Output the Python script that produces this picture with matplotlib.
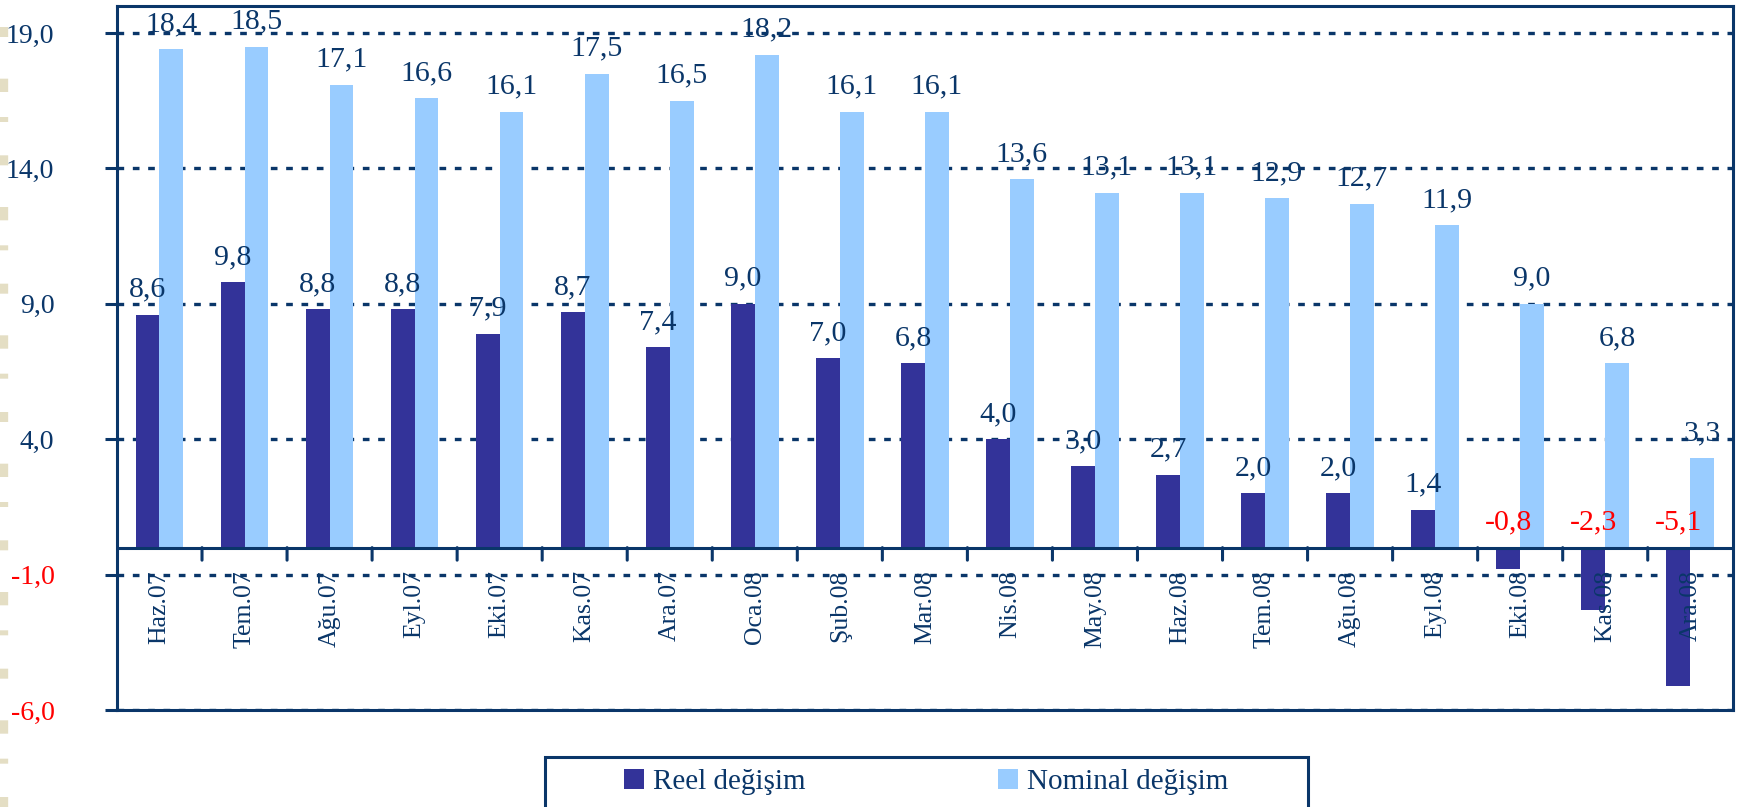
import numpy as np
import matplotlib
matplotlib.use("Agg")
import matplotlib.pyplot as plt
from matplotlib.patches import Rectangle
from matplotlib.lines import Line2D

months = ['Haz.07', 'Tem.07', 'Ağu.07', 'Eyl.07', 'Eki.07', 'Kas.07', 'Ara.07',
          'Oca.08', 'Şub.08', 'Mar.08', 'Nis.08', 'May.08', 'Haz.08', 'Tem.08',
          'Ağu.08', 'Eyl.08', 'Eki.08', 'Kas.08', 'Ara.08']
reel = [8.6, 9.8, 8.8, 8.8, 7.9, 8.7, 7.4, 9.0, 7.0, 6.8, 4.0, 3.0, 2.7, 2.0,
        2.0, 1.4, -0.8, -2.3, -5.1]
nominal = [18.4, 18.5, 17.1, 16.6, 16.1, 17.5, 16.5, 18.2, 16.1, 16.1, 13.6,
           13.1, 13.1, 12.9, 12.7, 11.9, 9.0, 6.8, 3.3]
yticks = [-6.0, -1.0, 4.0, 9.0, 14.0, 19.0]

NAVY = '#0a3669'
DARK = '#333399'
LIGHT = '#99ccff'
RED = '#ff0000'

plt.rcParams['font.family'] = 'serif'
plt.rcParams['font.serif'] = ['Liberation Serif', 'DejaVu Serif']

fig = plt.figure(figsize=(17.38, 8.07), dpi=100)
ax = fig.add_axes([0.0673, 0.120, 0.9297, 0.8726])

x = np.arange(len(months))
w = 0.28
ax.bar(x - w / 2, reel, w, color=DARK, zorder=3, label='Reel değişim')
ax.bar(x + w / 2, nominal, w, color=LIGHT, zorder=3, label='Nominal değişim')

ax.set_xlim(-0.5, len(months) - 0.5)
ax.set_ylim(-6, 20)

# grid
ax.set_yticks(yticks)
ax.set_yticklabels([f'{v:.1f}'.replace('.', ',') for v in yticks])
for t, v in zip(ax.get_yticklabels(), yticks):
    t.set_color(RED if v < 0 else NAVY)
for v in yticks:
    ax.axhline(v, color=NAVY, lw=2.4, ls=(0, (2.0, 2.6)), zorder=1)
ax.tick_params(axis='y', direction='out', length=9, width=2.2, color=NAVY,
               pad=36, labelsize=20)

# frame
for s in ax.spines.values():
    s.set_color(NAVY)
    s.set_linewidth(2.2)

# zero axis with category ticks
ax.axhline(0, color=NAVY, lw=2.2, zorder=4)
ax.set_xticks([])
for i in x[1:]:
    ax.annotate('', xy=(i - 0.5, 0), xycoords='data', xytext=(0, -9),
                textcoords='offset points',
                arrowprops=dict(arrowstyle='-', color=NAVY, lw=2.2,
                                shrinkA=0, shrinkB=0), zorder=4)
for i, m in zip(x, months):
    ax.annotate(m, xy=(i, 0), xytext=(0, -16), textcoords='offset points',
                rotation=90, ha='center', va='top', fontsize=18.5, color=NAVY,
                zorder=5)

# data labels
for i, (r, n) in enumerate(zip(reel, nominal)):
    for xx, v in ((i - w / 2, r), (i + w / 2, n)):
        ax.annotate(f'{v:.1f}'.replace('.', ','), xy=(xx, max(v, 0)),
                    xytext=(0, 13), textcoords='offset points',
                    ha='center', va='baseline', fontsize=21.5,
                    color=RED if v < 0 else NAVY, zorder=6)

# legend box
fig.patches.append(Rectangle((545 / 1738, -0.05), 763 / 1738, 0.05 + 50 / 807,
                             transform=fig.transFigure, fill=False,
                             edgecolor=NAVY, lw=2.2))
fig.legend(loc='center', bbox_to_anchor=(926 / 1738, 1 - 782 / 807), ncol=2,
           frameon=False, fontsize=21, handlelength=0.7, handleheight=0.7,
           handletextpad=0.3, columnspacing=6.6, labelcolor=NAVY)

# left decoration
fig.add_artist(Line2D([4 / 1738, 4 / 1738], [0, 1], transform=fig.transFigure,
                      color='#e4dec4', lw=6, ls=(0, (1.2, 4, 0.6, 3, 1.6, 5))))

fig.savefig('out.png', dpi=100)
